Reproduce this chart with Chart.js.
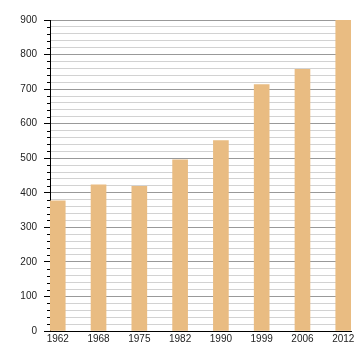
<!DOCTYPE html>
<html>
<head>
<meta charset="utf-8">
<script src="https://cdn.jsdelivr.net/npm/chart.js@4.4.1/dist/chart.umd.min.js"></script>
<style>
  html, body { margin: 0; padding: 0; background: #fff; }
  #wrap { width: 360px; height: 360px; }
</style>
</head>
<body>
<div id="wrap"><canvas id="chart" width="360" height="360"></canvas></div>
<script>
// data
const years = ['1962', '1968', '1975', '1982', '1990', '1999', '2006', '2012'];
const population = [377, 423, 419, 495, 551, 713, 757, 899];
const yTicks = [0, 100, 200, 300, 400, 500, 600, 700, 800, 900];

const BAR_COLOR = '#e9bc82';

// short ticks for the minor grid lines (every 20)
const minorTicks = {
    id: 'minorTicks',
    afterDraw(chart) {
        const y = chart.scales.y;
        const ctx = chart.ctx;
        const left = chart.chartArea.left;
        ctx.save();
        ctx.strokeStyle = '#000';
        ctx.lineWidth = 1;
        y.ticks.forEach(t => {
            if (t.value % 100 === 0) return;
            const py = Math.round(y.getPixelForValue(t.value)) + 0.5;
            ctx.beginPath();
            ctx.moveTo(left - 3, py);
            ctx.lineTo(left, py);
            ctx.stroke();
        });
        ctx.restore();
    }
};

new Chart(document.getElementById('chart'), {
    type: 'bar',
    data: {
        datasets: [{
            data: years.map((y, i) => ({ x: i, y: population[i] })),
            backgroundColor: BAR_COLOR,
            borderWidth: 0,
            barThickness: 15
        }]
    },
    options: {
        responsive: false,
        animation: false,
        layout: { padding: { top: 20, right: 9, left: 0, bottom: 0 } },
        plugins: { legend: { display: false }, tooltip: { enabled: false } },
        scales: {
            x: {
                type: 'linear',
                offset: false,
                min: -0.19,
                max: 7.19,
                afterBuildTicks: s => { s.ticks = years.map((_, i) => ({ value: i })); },
                afterFit: s => { s.height = 29; },
                grid: { display: false, drawTicks: false },
                border: { display: true, color: '#000', width: 1 },
                ticks: {
                    autoSkip: false,
                    maxRotation: 0,
                    padding: 2,
                    color: '#222',
                    font: { family: 'Liberation Sans, Arial, sans-serif', size: 10 },
                    callback: v => years[v] ?? ''
                }
            },
            y: {
                min: 0,
                max: 900,
                afterFit: s => { s.width = 50; },
                afterBuildTicks: s => {
                    const t = [];
                    for (let v = 0; v <= 900; v += 20) t.push({ value: v });
                    s.ticks = t;
                },
                grid: {
                    color: c => c.tick && c.tick.value % 100 === 0 ? '#999' : '#d2d2d2',
                    tickColor: c => c.tick && c.tick.value % 100 === 0 ? '#000' : 'rgba(0,0,0,0)',
                    tickLength: 6
                },
                border: { display: true, color: '#000', width: 1 },
                ticks: {
                    autoSkip: false,
                    padding: 7,
                    color: '#222',
                    font: { family: 'Liberation Sans, Arial, sans-serif', size: 10 },
                    callback: v => yTicks.includes(v) ? String(v) : ''
                }
            }
        }
    },
    plugins: [minorTicks]
});
</script>
</body>
</html>
